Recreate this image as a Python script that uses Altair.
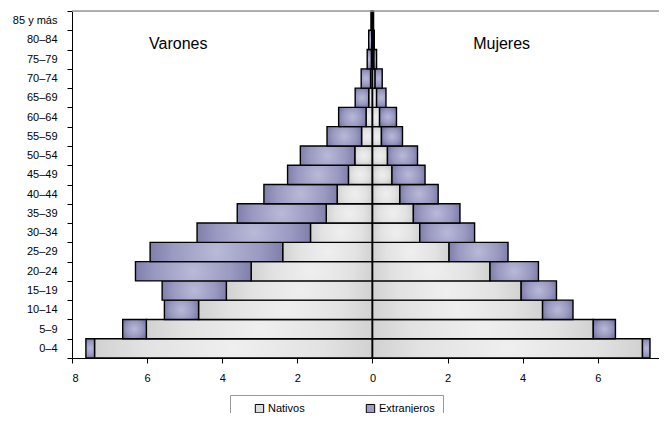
import altair as alt
import pandas as pd

ages = ["0–4", "5–9", "10–14", "15–19", "20–24", "25–29", "30–34", "35–39",
        "40–44", "45–49", "50–54", "55–59", "60–64", "65–69", "70–74",
        "75–79", "80–84", "85 y más"]
nat_varones = [7.40, 6.02, 4.63, 3.89, 3.23, 2.39, 1.65, 1.23, 0.94, 0.64,
               0.47, 0.29, 0.17, 0.10, 0.05, 0.03, 0.02, 0.01]
ext_varones = [0.23, 0.63, 0.91, 1.71, 3.08, 3.53, 3.02, 2.37, 1.95, 1.62,
               1.45, 0.92, 0.73, 0.36, 0.25, 0.11, 0.08, 0.03]
nat_mujeres = [7.19, 5.88, 4.53, 3.96, 3.13, 2.04, 1.26, 1.09, 0.73, 0.52,
               0.40, 0.24, 0.19, 0.11, 0.07, 0.04, 0.02, 0.01]
ext_mujeres = [0.20, 0.59, 0.81, 0.94, 1.29, 1.57, 1.46, 1.24, 1.02, 0.88,
               0.80, 0.56, 0.45, 0.25, 0.19, 0.07, 0.03, 0.02]
series = ["Nativos", "Extranjeros"]
x_ticks = [-8, -6, -4, -2, 0, 2, 4, 6]
labels = ["Varones", "Mujeres"]

rows = []
for i, a in enumerate(ages):
    rows.append({"edad": a, "sexo": "Varones", "sign": -1,
                 "nat": nat_varones[i], "ext": ext_varones[i]})
    rows.append({"edad": a, "sexo": "Mujeres", "sign": 1,
                 "nat": nat_mujeres[i], "ext": ext_mujeres[i]})
df = pd.DataFrame(rows)

order_top_down = list(reversed(ages))
W, H = 587, 347
FONT = "Liberation Sans"

yenc = alt.Y("edad:N", sort=order_top_down,
             scale=alt.Scale(paddingInner=0, paddingOuter=0),
             axis=alt.Axis(title=None, tickBand="extent", tickSize=5,
                           labelPadding=10, labelFont=FONT, labelFontSize=11,
                           labelColor="#000", domainColor="#000",
                           tickColor="#000", grid=False))
xscale = alt.Scale(domain=[-8, 7.63], nice=False, zero=False)
xaxis = alt.Axis(title=None, values=x_ticks, labelExpr="abs(datum.value)",
                 tickSize=5, labelPadding=9, labelFont=FONT, labelFontSize=11,
                 labelColor="#000", domainColor="#000", tickColor="#000",
                 grid=False)

grad_nat = alt.RadialGradient(
    gradient="radial", x1=0.5, y1=0.5, r1=0, x2=0.5, y2=0.5, r2=0.72,
    stops=[alt.GradientStop(color="#efefef", offset=0),
           alt.GradientStop(color="#e2e2e2", offset=0.45),
           alt.GradientStop(color="#bdbdbd", offset=1)])
grad_ext = alt.RadialGradient(
    gradient="radial", x1=0.5, y1=0.5, r1=0, x2=0.5, y2=0.5, r2=0.72,
    stops=[alt.GradientStop(color="#b9b9d8", offset=0),
           alt.GradientStop(color="#9a9ac2", offset=0.45),
           alt.GradientStop(color="#5e5e8e", offset=1)])

base = alt.Chart(df).transform_calculate(
    x0="0",
    xnat="datum.sign * datum.nat",
    xtot="datum.sign * (datum.nat + datum.ext)",
)

bars_nat = base.mark_bar(fill=grad_nat, stroke="#000", strokeWidth=1.4).encode(
    x=alt.X("x0:Q", scale=xscale, axis=xaxis),
    x2="xnat:Q",
    y=yenc,
)
bars_ext = base.mark_bar(fill=grad_ext, stroke="#000", strokeWidth=1.4).encode(
    x=alt.X("xnat:Q", scale=xscale, axis=xaxis),
    x2="xtot:Q",
    y=yenc,
)

legend_df = pd.DataFrame({"tipo": series, "edad": ["0–4", "0–4"], "v": [0, 0]})
legend_layer = alt.Chart(legend_df).mark_square(opacity=0).encode(
    x=alt.X("v:Q", scale=xscale, axis=xaxis),
    y=yenc,
    color=alt.Color("tipo:N", sort=series,
                    scale=alt.Scale(domain=series, range=["#dcdcdc", "#9c9cc4"]),
                    legend=alt.Legend(
                        title=None, orient="none", direction="horizontal",
                        legendX=158, legendY=384, padding=8,
                        symbolOffset=16, symbolType="square", symbolSize=70,
                        symbolOpacity=1, symbolStrokeColor="#000",
                        symbolStrokeWidth=1, labelFont=FONT, labelFontSize=11,
                        labelColor="#000", labelOffset=3, columnPadding=44,
                        strokeColor="#999", fillColor="#fff",
                        labelExpr="datum.label + '      '")),
)

zero_rule = alt.Chart(pd.DataFrame({"z": [0]})).mark_rule(
    color="#000", strokeWidth=1.5).encode(x=alt.X("z:Q", scale=xscale, axis=xaxis))

top_rule = alt.Chart(pd.DataFrame({"z": [0]})).mark_rule(
    color="#999", strokeWidth=1.5).encode(
    x=alt.value(0), x2=alt.value(W), y=alt.value(0))

text_df = pd.DataFrame({"lab": labels, "x": [-5.17, 3.44],
                        "edad": ["80–84", "80–84"]})
texts = alt.Chart(text_df).mark_text(
    font=FONT, fontSize=16, color="#000", baseline="middle", align="center", dy=4
).encode(
    x=alt.X("x:Q", scale=xscale, axis=xaxis),
    y=yenc,
    text="lab:N",
)

chart = alt.layer(bars_nat, bars_ext, zero_rule, top_rule, texts, legend_layer).properties(
    width=W, height=H,
    autosize=alt.AutoSizeParams(type="none"),
    padding={"left": 64, "top": 3, "right": 0, "bottom": 55},
).configure_view(stroke=None).configure(background="#ffffff")

chart.save("out.html", embed_options={"renderer": "svg", "actions": False})
